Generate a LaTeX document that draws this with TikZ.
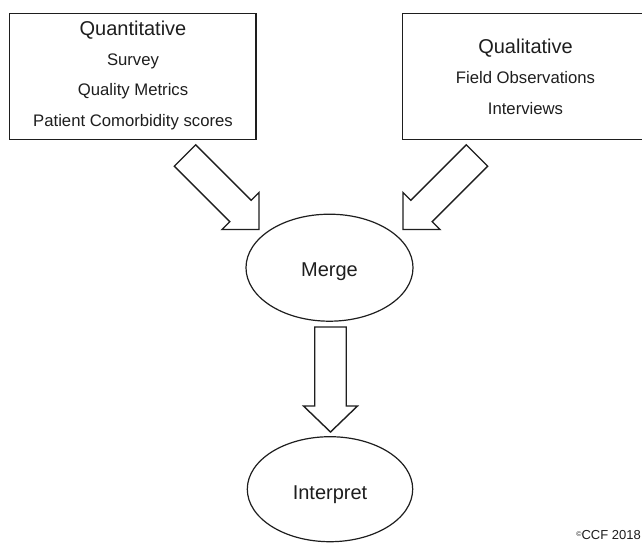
\documentclass[tikz,border=0pt]{standalone}
\usepackage{fontspec}
\setmainfont{Liberation Sans}
\usetikzlibrary{shapes.geometric}
\definecolor{ink}{HTML}{1E1E1E}
\tikzset{
  box/.style={draw=ink, line width=1.4pt, rectangle, inner sep=0pt},
  oval/.style={draw=ink, line width=1.2pt, ellipse, inner sep=0pt},
  blockarrow/.style={draw=ink, line width=1.4pt, line join=miter, fill=white},
  heading/.style={anchor=base, inner sep=0pt, font=\fontsize{20}{24}\selectfont, text=ink},
  item/.style={anchor=base, inner sep=0pt, font=\fontsize{16.7}{20}\selectfont, text=ink},
}
\begin{document}
\begin{tikzpicture}[x=1pt, y=-1pt]
  \useasboundingbox (0,0) rectangle (642,543);
  \fill[white] (0,0) rectangle (642,543);
  \clip (0,0) rectangle (642,543);

  % source boxes
  \node[box, minimum width=246.5pt, minimum height=126pt] (quant) at (132.75,76.3) {};
  \node[box, minimum width=257.3pt, minimum height=126pt] (qual) at (531.35,76.3) {};

  \node[heading] (quanttitle) at (133,35.3) {Quantitative};
  \node[item] (survey) at (133,65.5) {Survey};
  \node[item] (metrics) at (133,95.7) {Quality Metrics};
  \node[item] (comorb) at (133,126.5) {Patient Comorbidity scores};

  \node[heading] (qualtitle) at (525.5,53.3) {Qualitative};
  \node[item] (fieldobs) at (525.5,83.5) {Field Observations};
  \node[item] (interviews) at (525.5,114) {Interviews};

  % merge and interpret stages
  \node[oval, minimum width=167pt, minimum height=107pt] (merge) at (329.5,267.7) {};
  \node[heading] (mergetext) at (329.5,276) {Merge};
  \node[oval, minimum width=165.4pt, minimum height=105pt] (interpret) at (330,489.2) {};
  \node[heading] (interprettext) at (330,499.3) {Interpret};

  % block arrows
  \draw[blockarrow] (195.7,144.8) -- (251.2,200.3) -- (259,192.5) -- (259,229.5)
    -- (222,229.5) -- (229.8,221.7) -- (174.3,166.2) -- cycle;
  \draw[blockarrow] (466.3,144.8) -- (410.8,200.3) -- (403,192.5) -- (403,229.5)
    -- (440,229.5) -- (432.2,221.7) -- (487.7,166.2) -- cycle;
  \draw[blockarrow] (314.75,327) -- (346.25,327) -- (346.25,406) -- (357.5,406)
    -- (330.5,432) -- (303.5,406) -- (314.75,406) -- cycle;

  % copyright mark
  \node[anchor=base east, inner sep=0pt, text=ink, font=\fontsize{13}{15}\selectfont]
    (copyright) at (641,539.5) {\raisebox{3.5pt}{\fontsize{7}{8}\selectfont ©}CCF 2018};
\end{tikzpicture}
\end{document}
